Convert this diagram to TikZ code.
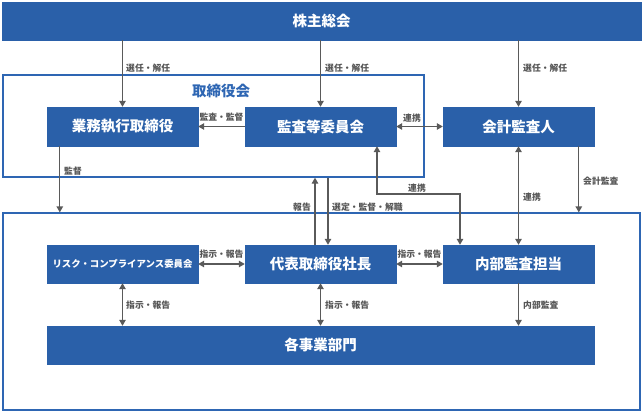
\documentclass[tikz,border=0pt]{standalone}
\usepackage{fontspec}
\setmainfont{Noto Sans CJK JP}
\usetikzlibrary{arrows.meta,calc}
\definecolor{boxblue}{HTML}{2A60A9}
\definecolor{frameblue}{HTML}{2E66B3}
\definecolor{arrgray}{HTML}{5A5A5A}
\definecolor{labgray}{HTML}{555555}
\tikzset{
  bluebox/.style={draw=boxblue, fill=boxblue, text=white, minimum width=151pt, minimum height=39pt, inner sep=0pt, font=\fontsize{14.5}{16}\selectfont\bfseries},
  framebox/.style={draw=frameblue, line width=1.3pt, inner sep=0pt},
  arr/.style={draw=arrgray, line width=1.3pt, -{Triangle[length=6pt,width=6.5pt]}},
  darr/.style={draw=arrgray, line width=1.3pt, {Triangle[length=6pt,width=6.5pt]}-{Triangle[length=6pt,width=6.5pt]}},
  lab/.style={text=labgray, inner sep=0pt, font=\fontsize{8.8}{10}\selectfont\bfseries},
}
\begin{document}
\begin{tikzpicture}[x=1pt,y=-1pt]
\useasboundingbox (0,0) rectangle (642,412);
% frames
\node[framebox, minimum width=421pt, minimum height=102pt] (board) at (213.5,126) {};
\node[framebox, minimum width=637pt, minimum height=197pt] (lower) at (321.5,311.5) {};
\node[text=frameblue, inner sep=0pt, font=\fontsize{14.5}{16}\selectfont\bfseries] (boardlab) at (221,91) {取締役会};
% boxes
\node[bluebox, minimum width=639pt, minimum height=38pt] (soukai) at (321.5,21) {株主総会};
\node[bluebox] (gyomu) at (122.5,126.5) {業務執行取締役};
\node[bluebox] (kansa) at (320.5,126.5) {監査等委員会};
\node[bluebox] (kaikei) at (518.5,126.5) {会計監査人};
\node[bluebox, minimum height=38pt, font=\fontsize{9.4}{11}\selectfont\bfseries] (risk) at (122.5,264) {リスク・コンプライアンス委員会};
\node[bluebox, minimum height=38pt] (daihyo) at (320.5,264) {代表取締役社長};
\node[bluebox, minimum height=38pt] (naibu) at (518.5,264) {内部監査担当};
\node[bluebox, minimum width=547pt, minimum height=38pt] (jigyo) at (320.5,345) {各事業部門};
% top arrows
\draw[arr] (gyomu.north |- soukai.south) -- (gyomu.north);
\node[lab, anchor=west] (l1) at (126,68) {選任・解任};
\draw[arr] (kansa.north |- soukai.south) -- (kansa.north);
\node[lab, anchor=west] (l2) at (325,68) {選任・解任};
\draw[arr] (kaikei.north |- soukai.south) -- (kaikei.north);
\node[lab, anchor=west] (l3) at (523,68) {選任・解任};
% board row
\draw[arr] (kansa.west) -- (gyomu.east);
\node[lab] (l4) at (221.5,117) {監査・監督};
\draw[darr] (kansa.east) -- (kaikei.west);
\node[lab] (l5) at (412,118) {連携};
% to lower frame
\coordinate (kantokuTop) at ($(gyomu.south west)+(13,0)$);
\draw[arr] (kantokuTop) -- (kantokuTop |- lower.north);
\node[lab, anchor=west] (l6) at (64,171) {監督};
\coordinate (kaikeiTop) at ($(kaikei.south west)+(136,0)$);
\draw[arr] (kaikeiTop) -- (kaikeiTop |- lower.north);
\node[lab, anchor=west] (l7) at (583,181) {会計監査};
% between board and daihyo
\coordinate (hokokuBot) at ($(daihyo.north)+(-5.5,0)$);
\draw[arr] (hokokuBot) -- (hokokuBot |- board.south);
\node[lab, anchor=east] (l8) at (311,207) {報告};
\coordinate (senteiBot) at ($(daihyo.north)+(7.5,0)$);
\draw[arr] (senteiBot |- board.south) -- (senteiBot);
\node[lab, anchor=west] (l9) at (332,207) {選定・監督・解職};
% renkei elbow
\coordinate (rkA) at ($(kansa.south)+(56.5,0)$);
\coordinate (rkB) at ($(naibu.north)+(-58.5,0)$);
\draw[darr] (rkA) -- (rkA |- 0,194) -- (rkB |- 0,194) -- (rkB);
\node[lab] (l10) at (417,188) {連携};
\draw[darr] (kaikei.south) -- (naibu.north);
\node[lab, anchor=west] (l11) at (523,197) {連携};
% lower row
\draw[darr] (risk.east) -- (daihyo.west);
\node[lab] (l12) at (221.5,254) {指示・報告};
\draw[darr] (daihyo.east) -- (naibu.west);
\node[lab] (l13) at (419.5,254) {指示・報告};
\draw[darr] (risk.south) -- (risk.south |- jigyo.north);
\node[lab, anchor=west] (l14) at (126,305) {指示・報告};
\draw[darr] (daihyo.south) -- (daihyo.south |- jigyo.north);
\node[lab, anchor=west] (l15) at (325,305) {指示・報告};
\draw[arr] (naibu.south) -- (naibu.south |- jigyo.north);
\node[lab, anchor=west] (l16) at (523,305) {内部監査};
\end{tikzpicture}
\end{document}
